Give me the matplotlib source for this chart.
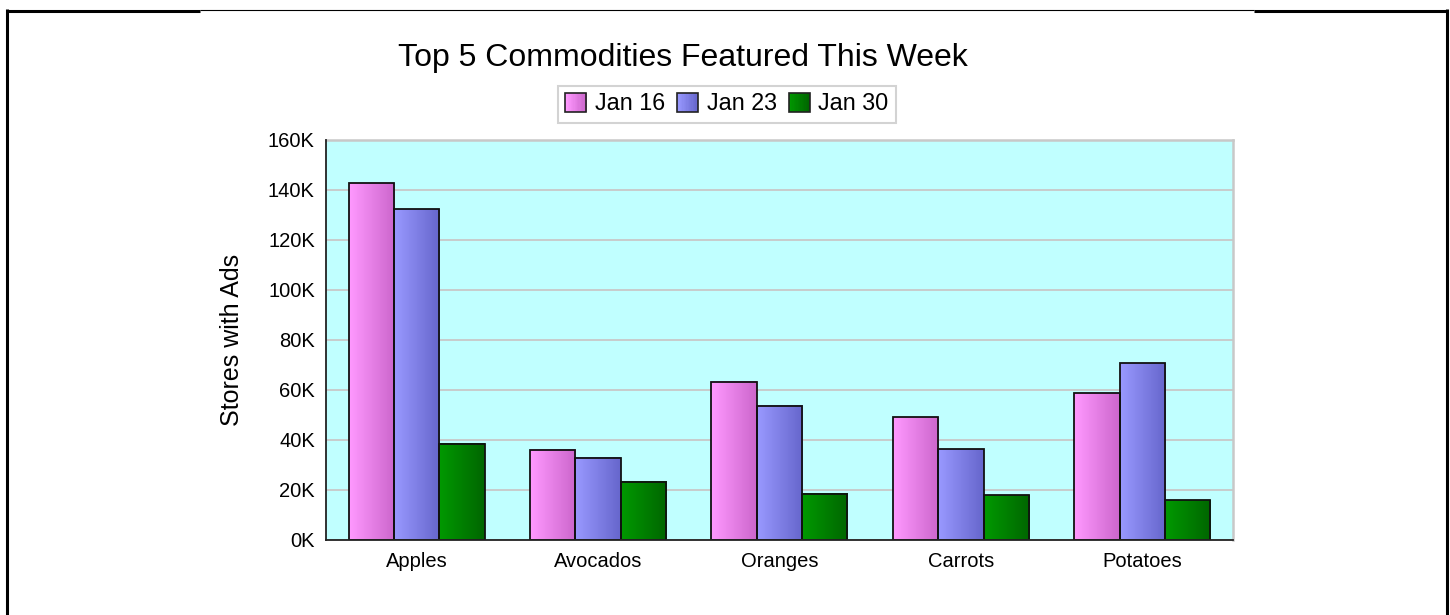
import numpy as np
import matplotlib
matplotlib.use("Agg")
import matplotlib.pyplot as plt
from matplotlib.colors import LinearSegmentedColormap, to_rgb
from matplotlib.lines import Line2D
from matplotlib.patches import Rectangle, Patch
from matplotlib.legend_handler import HandlerBase
from matplotlib.ticker import FuncFormatter, MultipleLocator

plt.rcParams['font.family'] = ['Liberation Sans', 'DejaVu Sans']

# data (stores with ads)
commodities = ["Apples", "Avocados", "Oranges", "Carrots", "Potatoes"]
weeks = ["Jan 16", "Jan 23", "Jan 30"]
jan16 = [142700, 36100, 63300, 49200, 58700]
jan23 = [132300, 32900, 53700, 36400, 70700]
jan30 = [38500, 23300, 18500, 17800, 15900]
series = [jan16, jan23, jan30]

# left -> right gradient for each series
grads = [("#ff99ff", "#cc66cc"), ("#9999ff", "#6666cc"), ("#009900", "#006600")]


class GradHandler(HandlerBase):
    """legend box filled with a horizontal gradient"""
    def __init__(self, c0, c1):
        super().__init__()
        self.c0, self.c1 = np.array(to_rgb(c0)), np.array(to_rgb(c1))

    def create_artists(self, legend, orig_handle, xdescent, ydescent,
                       width, height, fontsize, trans):
        n = 16
        arts = []
        for i in range(n):
            col = self.c0 + (self.c1 - self.c0) * i / (n - 1)
            arts.append(Rectangle((-xdescent + i * width / n, -ydescent),
                                  width / n + 0.3, height, facecolor=col,
                                  edgecolor='none', transform=trans))
        arts.append(Rectangle((-xdescent, -ydescent), width, height,
                              fill=False, edgecolor='#222222', lw=1.2,
                              transform=trans))
        return arts


fig = plt.figure(figsize=(14.5, 6.15), dpi=100)
ax = fig.add_axes([0.2248, 0.122, 0.6255, 0.6504])
ax.set_facecolor("#c0ffff")

x = np.arange(len(commodities))
bw = 0.25
offsets = [-bw, 0, bw]
grad = np.linspace(0, 1, 64).reshape(1, -1)

for vals, off, (c0, c1) in zip(series, offsets, grads):
    cmap = LinearSegmentedColormap.from_list("g", [c0, c1])
    bars = ax.bar(x + off, vals, width=bw, facecolor='none',
                  edgecolor='#111111', lw=1.3, zorder=3)
    for b in bars:
        ax.imshow(grad, cmap=cmap, aspect='auto', interpolation='bilinear',
                  extent=[b.get_x(), b.get_x() + b.get_width(), 0, b.get_height()],
                  zorder=2)

ax.set_xlim(-0.5, len(commodities) - 0.5)
ax.set_ylim(0, 160000)
ax.yaxis.set_major_locator(MultipleLocator(20000))
ax.yaxis.set_major_formatter(FuncFormatter(lambda v, p: f"{v / 1000:.0f}K"))
ax.set_xticks(x)
ax.set_xticklabels(commodities)
ax.tick_params(axis='both', length=0, labelsize=14.5)
ax.tick_params(axis='y', pad=8)
ax.tick_params(axis='x', pad=9)
ax.grid(axis='y', color='#c8c8c8', lw=1.3, zorder=1)
ax.set_axisbelow(True)

for s in ['top', 'right']:
    ax.spines[s].set_color('#c8c8c8')
    ax.spines[s].set_linewidth(1.8)
for s in ['left', 'bottom']:
    ax.spines[s].set_color('#222222')
    ax.spines[s].set_linewidth(1.3)
    ax.spines[s].set_zorder(4)

ax.set_ylabel("Stores with Ads", fontsize=18)
ax.yaxis.set_label_coords(-0.09, 0.5)

fig.text(0.471, 1 - 66 / 615, "Top 5 Commodities Featured This Week",
         fontsize=23, ha='center', va='baseline')

handles = [Patch(label=w) for w in weeks]
hmap = {h: GradHandler(*g) for h, g in zip(handles, grads)}
leg = fig.legend(handles=handles, handler_map=hmap, loc='center',
                 bbox_to_anchor=(727 / 1450, 1 - 104 / 615), ncol=3,
                 fontsize=16.8, frameon=True, fancybox=False,
                 handlelength=0.9, handleheight=0.9, handletextpad=0.38,
                 columnspacing=0.5, borderpad=0.3, borderaxespad=0)
leg.get_frame().set_edgecolor('#c8c8c8')
leg.get_frame().set_linewidth(1.5)

# outer frame (no bottom edge visible)
W, H = 1450, 615
def fline(xs, ys, lw):
    fig.add_artist(Line2D([v / W for v in xs], [1 - v / H for v in ys],
                          color='black', lw=lw, transform=fig.transFigure,
                          solid_capstyle='butt'))

fline([6.5, 6.5], [9, 615], 2.2)
fline([1447, 1447], [9, 615], 2.2)
fline([5.5, 200], [10.8, 10.8], 2.2)
fline([200, 1254], [9.7, 9.7], 0.8)
fline([1254, 1448], [10.8, 10.8], 2.2)

fig.savefig("out.png", dpi=100)
